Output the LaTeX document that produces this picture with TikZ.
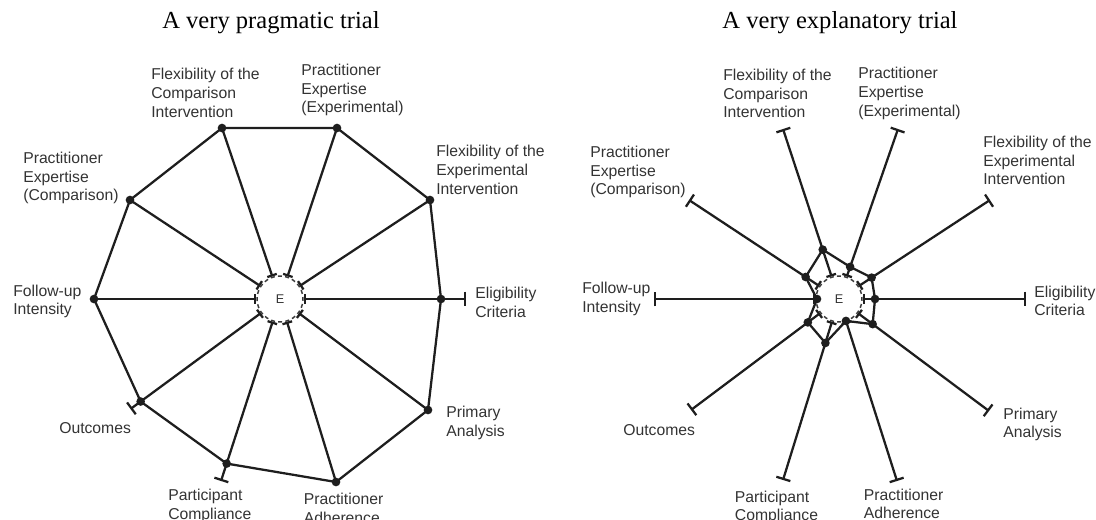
\documentclass[tikz,border=0pt]{standalone}
\usepackage{fontspec}
\setmainfont{Liberation Serif}
\setsansfont{Liberation Sans}
\usetikzlibrary{arrows.meta,calc}
\definecolor{linec}{HTML}{1E1E1E}
\definecolor{labc}{HTML}{333333}
\definecolor{hubc}{HTML}{3A3A3A}
\begin{document}
\begin{tikzpicture}[x=0.75pt,y=-0.75pt,
  spoke/.style={line width=1.7pt, draw=linec},
  poly/.style={line width=1.7pt, draw=linec, line join=round},
  inbar/.style={{Bar[width=7.5pt]}-},
  bothbar/.style={{Bar[width=7.5pt]}-{Bar[width=11pt]}},
  dot/.style={circle, fill=linec, inner sep=0pt, minimum size=6.5pt},
  lab/.style={font=\sffamily\fontsize{11.8}{14}\selectfont, text=labc, align=left, anchor=west, inner sep=0pt},
  hub/.style={circle, minimum size=34.5pt, inner sep=0pt, draw=hubc, line width=1.1pt,
    dash pattern=on 3pt off 2.42pt, dash phase=1.5pt, font=\sffamily\fontsize{9.5}{9.5}\selectfont, text=labc},
  ttl/.style={font=\fontsize{18.4}{20}\selectfont, inner sep=0pt}]
\useasboundingbox (0,0) rectangle (1096,519);

% ---------------- titles
\node[ttl] (tL) at (271,23) {A very pragmatic trial};
\node[ttl] (tR) at (840,23) {A very explanatory trial};

% ---------------- left diagram
\node[hub] (LE) at (280,299) {E};
\coordinate (Lel) at (466,299);
\coordinate (Lfe) at (430,200);
\coordinate (Lpee) at (337,128);
\coordinate (Lfc) at (222,128);
\coordinate (Lpec) at (130,200);
\coordinate (Lfu) at (94,299);
\coordinate (Loc) at (130.5,409);
\coordinate (Lpc) at (221,481);
\coordinate (Lpa) at (336,482);
\coordinate (Lan) at (428,410);
\coordinate (Leld) at ($(LE.center)!120.75pt!(Lel)$);
\coordinate (Locd) at ($(LE.center)!129.75pt!(Loc)$);
\coordinate (Lpcd) at ($(LE.center)!129.75pt!(Lpc)$);

\draw[spoke, bothbar] (LE) -- (Lel);
\draw[spoke, bothbar] (LE) -- (Loc);
\draw[spoke, bothbar] (LE) -- (Lpc);
\foreach \p in {Lfe,Lpee,Lfc,Lpec,Lfu,Lpa,Lan}
  \draw[spoke, inbar] (LE) -- (\p);
\draw[poly] (Leld) -- (Lfe) -- (Lpee) -- (Lfc) -- (Lpec) -- (Lfu) -- (Locd) -- (Lpcd) -- (Lpa) -- (Lan) -- cycle;
\foreach \p in {Leld,Lfe,Lpee,Lfc,Lpec,Lfu,Locd,Lpcd,Lpa,Lan}
  \node[dot] (d\p) at (\p) {};

\node[lab] (lLfc) at (151,93) {Flexibility of the\\Comparison\\Intervention};
\node[lab] (lLpee) at (301,90) {Practitioner\\Expertise\\(Experimental)};
\node[lab] (lLpec) at (23,178) {Practitioner\\Expertise\\(Comparison)};
\node[lab] (lLfe) at (436,170) {Flexibility of the\\Experimental\\Intervention};
\node[lab] (lLfu) at (13,301.5) {Follow-up\\Intensity};
\node[lab] (lLel) at (475,302.5) {Eligibility\\Criteria};
\node[lab] (lLoc) at (59,428) {Outcomes};
\node[lab] (lLan) at (446,423) {Primary\\Analysis};
\node[lab] (lLpc) at (168,506) {Participant\\Compliance};
\node[lab] (lLpa) at (303.5,508.5) {Practitioner\\Adherence};

% ---------------- right diagram
\node[hub] (RE) at (839,299) {E};
\coordinate (Rel) at (1026,299);
\coordinate (Rfe) at (990,200);
\coordinate (Rpee) at (898,129);
\coordinate (Rfc) at (783,129);
\coordinate (Rpec) at (689,200);
\coordinate (Rfu) at (654,299);
\coordinate (Roc) at (691,410);
\coordinate (Rpc) at (783,480);
\coordinate (Rpa) at (897,481);
\coordinate (Ran) at (989,411);
\coordinate (Reld) at ($(RE.center)!27pt!(Rel)$);
\coordinate (Rfed) at ($(RE.center)!29.25pt!(Rfe)$);
\coordinate (Rpeed) at ($(RE.center)!25.5pt!(Rpee)$);
\coordinate (Rfcd) at ($(RE.center)!39pt!(Rfc)$);
\coordinate (Rpecd) at ($(RE.center)!30pt!(Rpec)$);
\coordinate (Rfud) at ($(RE.center)!16.5pt!(Rfu)$);
\coordinate (Rocd) at ($(RE.center)!29.25pt!(Roc)$);
\coordinate (Rpcd) at ($(RE.center)!34.5pt!(Rpc)$);
\coordinate (Rpad) at ($(RE.center)!17.25pt!(Rpa)$);
\coordinate (Rand) at ($(RE.center)!31.5pt!(Ran)$);

\foreach \p in {Rel,Rfe,Rpee,Rfc,Rpec,Rfu,Roc,Rpc,Rpa,Ran}
  \draw[spoke, bothbar] (RE) -- (\p);
\draw[poly] (Reld) -- (Rfed) -- (Rpeed) -- (Rfcd) -- (Rpecd) -- (Rfud) -- (Rocd) -- (Rpcd) -- (Rpad) -- (Rand) -- cycle;
\foreach \p in {Reld,Rfed,Rpeed,Rfcd,Rpecd,Rfud,Rocd,Rpcd,Rpad,Rand}
  \node[dot] (d\p) at (\p) {};

\node[lab] (lRfc) at (723,93.5) {Flexibility of the\\Comparison\\Intervention};
\node[lab] (lRpee) at (858,93.5) {Practitioner\\Expertise\\(Experimental)};
\node[lab] (lRpec) at (590,172) {Practitioner\\Expertise\\(Comparison)};
\node[lab] (lRfe) at (983,160.5) {Flexibility of the\\Experimental\\Intervention};
\node[lab] (lRfu) at (582,299) {Follow-up\\Intensity};
\node[lab] (lRel) at (1034,301) {Eligibility\\Criteria};
\node[lab] (lRoc) at (623,430) {Outcomes};
\node[lab] (lRan) at (1003,424.4) {Primary\\Analysis};
\node[lab] (lRpc) at (734.7,507.5) {Participant\\Compliance};
\node[lab] (lRpa) at (863.6,504) {Practitioner\\Adherence};
\end{tikzpicture}
\end{document}
